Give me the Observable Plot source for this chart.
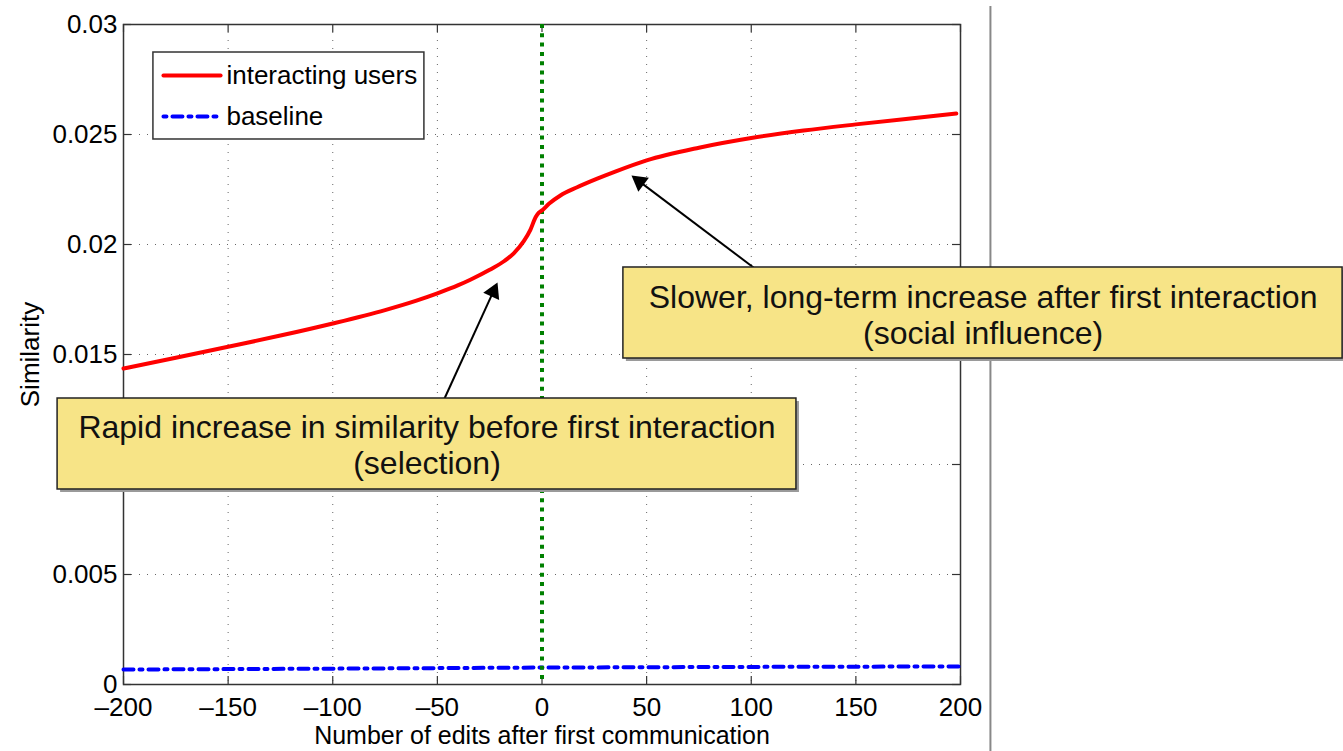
<!DOCTYPE html>
<html><head><meta charset="utf-8">
<script src="https://cdn.jsdelivr.net/npm/d3@7"></script>
<script src="https://cdn.jsdelivr.net/npm/@observablehq/plot@0.6"></script>
<style>body{margin:0;background:#fff}</style>
</head><body><div id="chart"></div>
<script>
// ---- data ----
const editsX = [-200,-175,-150,-125,-100,-75,-60,-50,-40,-34,-25,-18,-13.5,-8.7,-5.5,-3,-1.5,0,3.3,8.8,16.8,26.4,35,50,75,100,125,150,175,198];
const interactingY = [0.01436,0.01485,0.01535,0.01586,0.01641,0.01702,0.01745,0.01778,0.01815,0.01841,0.01885,0.01925,0.01960,0.02015,0.02068,0.02125,0.02145,0.02155,0.02185,0.02223,0.02260,0.02299,0.02331,0.02382,0.02440,0.02484,0.02518,0.02546,0.02572,0.02595];
const baselineX = [-200,-100,0,100,200];
const baselineY = [0.00068,0.00072,0.00077,0.0008,0.00082];
const xTicks = [-200,-150,-100,-50,0,50,100,150,200];
const yTicks = [0,0.005,0.01,0.015,0.02,0.025,0.03];
const xGrid = [-150,-100,-50,50,100,150];
const yGrid = [0.005,0.01,0.015,0.02,0.025];
const xLabel = "Number of edits after first communication";
const yLabel = "Similarity";
const seriesNames = ["interacting users","baseline"];
const firstContact = [0];
// axis title placement (data coordinates)
const xLabelPos = {x: 0, y: -0.00232};
const yLabelPos = {x: -244.4, y: 0.015};
// annotations (data coordinates)
const boxX1 = [-231.5, 38.9];
const boxX2 = [121.6, 382.6];
const boxYTop = [0.0130, 0.018955];
const boxYBottom = [0.008864, 0.014818];
const noteLines = ["Rapid increase in similarity before first interaction","(selection)","Slower, long-term increase after first interaction","(social influence)"];
const noteX = [-54.96,-54.96,210.8,210.8];
const noteY = [0.011682,0.010045,0.017591,0.015955];
const arrowTailX = [-46.59, 101.08];
const arrowTailY = [0.0130, 0.018955];
const arrowTipX = [-21.27, 42.77];
const arrowTipY = [0.018273, 0.023136];
// legend placement (data coordinates)
const legendBox = {x1:-185.7, x2:-56.2, y1:0.024773, y2:0.028727};
const legendSampleX = [-180.9, -153.6];
const legendRowY = [0.027682, 0.025818];
const legendTextX = -150.8;
// slide separator line
const separatorX = [214.3];
const separatorY = [0.030818, -0.003045];

// ---- layout ----
const W = 1343, H = 751, ML = 123, MR = 383, MT = 24, MB = 67;
const xDom = [-200,200], yDom = [0,0.03];
const sx = d3.scaleLinear(xDom, [ML, W - MR]);
const sy = d3.scaleLinear(yDom, [H - MB, MT]);

const redData = editsX.map((x,i)=>({x, y: interactingY[i]}));
const blueData = baselineX.map((x,i)=>({x, y: baselineY[i]}));
const boxes = boxX1.map((x1,i)=>({x1, x2: boxX2[i], y1: boxYBottom[i], y2: boxYTop[i]}));
const notes = noteLines.map((t,i)=>({t, x: noteX[i], y: noteY[i]}));
const headR = 6.5;
const tipDist = 2*Math.sqrt(headR*headR*Math.PI/(3*Math.sqrt(3)));
const arrows = arrowTailX.map((x1,i)=>{
  const px1 = sx(x1), py1 = sy(arrowTailY[i]), px2 = sx(arrowTipX[i]), py2 = sy(arrowTipY[i]);
  const dx = px2-px1, dy = py2-py1, L = Math.hypot(dx,dy);
  const cx = px2 - dx/L*tipDist, cy = py2 - dy/L*tipDist;
  return {x1, y1: arrowTailY[i], xc: sx.invert(cx), yc: sy.invert(cy),
          angle: Math.atan2(dx, -dy)*180/Math.PI};
});
const legendRows = seriesNames.map((n,i)=>({n, y: legendRowY[i]}));
const fmtX = d => d < 0 ? "\u2013" + (-d) : String(d);
const fmtY = d => String(+d.toFixed(3));

const chart = Plot.plot({
  width: W, height: H,
  marginLeft: ML, marginRight: MR, marginTop: MT, marginBottom: MB,
  x: {domain: xDom},
  y: {domain: yDom},
  style: {fontFamily: "'Liberation Sans', Arial, sans-serif", fontSize: "26px", background: "white", color: "black", overflow: "visible"},
  marks: [
    Plot.ruleX(xGrid, {stroke: "#666", strokeWidth: 1, strokeDasharray: "1,7"}),
    Plot.ruleY(yGrid, {stroke: "#666", strokeWidth: 1, strokeDasharray: "1,7"}),
    Plot.frame({stroke: "#333", strokeWidth: 1.5}),
    Plot.tickX(xTicks, {x: d=>d, insetTop: H-MT-MB-8, stroke: "#333", strokeWidth: 1.2}),
    Plot.tickX(xTicks, {x: d=>d, insetBottom: H-MT-MB-8, stroke: "#333", strokeWidth: 1.2}),
    Plot.tickY(yTicks, {y: d=>d, insetRight: W-ML-MR-8, stroke: "#333", strokeWidth: 1.2}),
    Plot.tickY(yTicks, {y: d=>d, insetLeft: W-ML-MR-8, stroke: "#333", strokeWidth: 1.2}),
    Plot.axisX(xTicks, {anchor: "bottom", tickSize: 0, tickPadding: 13, tickFormat: fmtX, label: null, fontSize: 26}),
    Plot.axisY(yTicks, {anchor: "left", tickSize: 0, tickPadding: 6, tickFormat: fmtY, label: null, fontSize: 26}),
    Plot.text([xLabel], {x: xLabelPos.x, y: xLabelPos.y, text: d=>d, fontSize: 25}),
    Plot.text([yLabel], {x: yLabelPos.x, y: yLabelPos.y, rotate: -90, text: d=>d, fontSize: 26}),
    Plot.line(blueData, {x: "x", y: "y", stroke: "#0000ff", strokeWidth: 4, strokeDasharray: "10,6,3,6"}),
    Plot.ruleX(firstContact, {x: d=>d, stroke: "#008000", strokeWidth: 4, strokeDasharray: "4,5.3"}),
    Plot.line(redData, {x: "x", y: "y", stroke: "#ff0000", strokeWidth: 4, curve: "monotone-x"}),
    // legend
    Plot.rect([legendBox], {x1: "x1", x2: "x2", y1: "y1", y2: "y2", fill: "white", stroke: "#333", strokeWidth: 1.5}),
    Plot.line(legendSampleX.map(x=>({x, y: legendRowY[0]})), {x: "x", y: "y", stroke: "#ff0000", strokeWidth: 4}),
    Plot.line(legendSampleX.map(x=>({x, y: legendRowY[1]})), {x: "x", y: "y", stroke: "#0000ff", strokeWidth: 4, strokeDasharray: "3,6,10,6"}),
    Plot.text(legendRows, {x: legendTextX, y: "y", text: "n", textAnchor: "start", fontSize: 26}),
    // separator
    Plot.ruleX(separatorX, {x: d=>d, y1: separatorY[0], y2: separatorY[1], stroke: "#888", strokeWidth: 2}),
    // arrows
    Plot.link(arrows, {x1: "x1", y1: "y1", x2: "xc", y2: "yc", stroke: "black", strokeWidth: 2}),
    Plot.dot(arrows, {x: "xc", y: "yc", symbol: "triangle", r: headR, fill: "black", stroke: "none", rotate: "angle"}),
    // annotation boxes
    Plot.rect(boxes, {x1: "x1", x2: "x2", y1: "y1", y2: "y2", fill: "#9a9a9a", dx: 3, dy: 3}),
    Plot.rect(boxes, {x1: "x1", x2: "x2", y1: "y1", y2: "y2", fill: "#f7e487", stroke: "#222", strokeWidth: 1.5}),
    Plot.text(notes, {x: "x", y: "y", text: "t", fontSize: 32, fill: "#111"})
  ]
});
document.getElementById("chart").appendChild(chart);
</script>
</body></html>
